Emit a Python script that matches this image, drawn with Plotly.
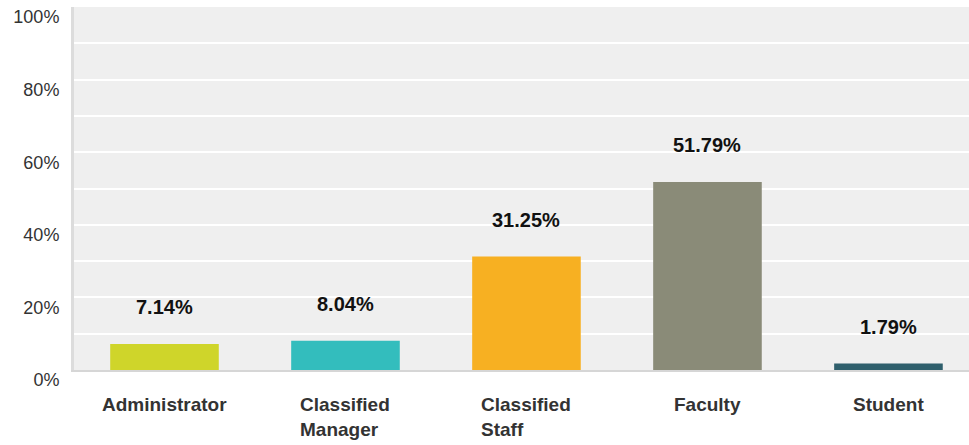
import plotly.graph_objects as go

# datos
categorias = ["Administrator", "Classified Manager", "Classified Staff", "Faculty", "Student"]
etiquetas = ["Administrator", "Classified<br>Manager", "Classified<br>Staff", "Faculty", "Student"]
valores = [7.14, 8.04, 31.25, 51.79, 1.79]
colores = ["#cfd52a", "#33bdbd", "#f7b022", "#8a8b78", "#2f5f6c"]

fig = go.Figure()

fig.add_trace(go.Bar(x=categorias, y=valores, marker_color=colores,
                     marker_line_width=0, showlegend=False, hoverinfo="skip"))

# porcentajes encima de cada barra
for c, v in zip(categorias, valores):
    fig.add_annotation(x=c, y=v, xref="x", yref="y", text=f"<b>{v:.2f}%</b>",
                       showarrow=False, yanchor="middle", yshift=37,
                       font=dict(size=20, color="#111111"))

# etiquetas de categoria (alineadas a la izquierda)
for c, t in zip(categorias, etiquetas):
    fig.add_annotation(x=c, y=0, xref="x", yref="paper", text=f"<b>{t}</b>",
                       showarrow=False, yanchor="top", yshift=-22, align="left",
                       font=dict(size=19, color="#333333"))

fig.update_layout(
    width=969, height=445,
    margin=dict(l=74, r=0, t=7, b=75),
    paper_bgcolor="white", plot_bgcolor="#efefef",
    bargap=0.4,
    font=dict(family="Liberation Sans, Arial, sans-serif", color="#333333"),
)
fig.update_xaxes(range=[-0.5, 4.445], showticklabels=False, showgrid=False,
                 showline=True, linecolor="#d6d6d6", linewidth=2, zeroline=False,
                 automargin=False, fixedrange=True)
fig.update_yaxes(range=[0, 100], tickvals=[0, 20, 40, 60, 80, 100],
                 ticktext=["0%", "20%", "40%", "60%", "80%", "100%"],
                 ticklabelshift=10, ticklabelstandoff=8,
                 tickfont=dict(size=18, color="#333333"),
                 showgrid=True, gridcolor="white", gridwidth=2,
                 minor=dict(dtick=10, showgrid=True, gridcolor="white", gridwidth=2),
                 showline=True, linecolor="#dcdcdc", linewidth=3, zeroline=False,
                 automargin=False, fixedrange=True)

# quitamos el margen del body para que el grafico ocupe toda la ventana
fig.write_html("out.html", config={"displayModeBar": False},
               post_script="document.body.style.margin='0';")
